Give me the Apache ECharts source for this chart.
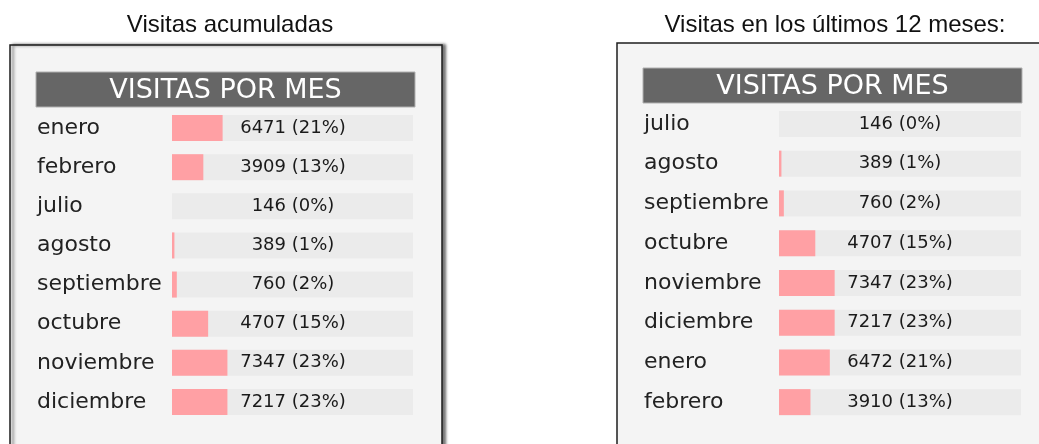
<!DOCTYPE html>
<html>
<head>
<meta charset="utf-8">
<script src="https://cdn.jsdelivr.net/npm/echarts@6/dist/echarts.min.js"></script>
<style>
  html, body { margin: 0; padding: 0; background: #fff; }
  #chart { width: 1039px; height: 444px; }
</style>
</head>
<body>
<div id="chart"></div>
<script>
// left panel: visitas acumuladas
var leftMonths = ['enero', 'febrero', 'julio', 'agosto', 'septiembre', 'octubre', 'noviembre', 'diciembre']
var leftVisits = [6471, 3909, 146, 389, 760, 4707, 7347, 7217]
var leftPct = [21, 13, 0, 1, 2, 15, 23, 23]

// right panel: ultimos 12 meses
var rightMonths = ['julio', 'agosto', 'septiembre', 'octubre', 'noviembre', 'diciembre', 'enero', 'febrero']
var rightVisits = [146, 389, 760, 4707, 7347, 7217, 6472, 3910]
var rightPct = [0, 1, 2, 15, 23, 23, 21, 13]

var pixelFont = 'DejaVu Sans'

function panel(x, y, w, h, shadow) {
  return {
    type: 'rect',
    z: 0,
    shape: { x: x, y: y, width: w, height: h },
    style: {
      fill: '#f4f4f4',
      stroke: '#1e1e1e',
      lineWidth: 1.5,
      shadowBlur: shadow ? 3 : 0,
      shadowOffsetX: shadow ? 3 : 0,
      shadowOffsetY: 0,
      shadowColor: 'rgba(0,0,0,0.55)'
    }
  }
}

function header(x, y, w, h) {
  return {
    type: 'group',
    z: 1,
    children: [
      {
        type: 'rect',
        shape: { x: x, y: y, width: w, height: h },
        style: { fill: '#666666', stroke: '#b0b0b0', lineWidth: 1 }
      },
      {
        type: 'text',
        x: x + w / 2,
        y: y + h / 2 + 1,
        style: {
          text: 'VISITAS POR MES',
          fill: '#ffffff',
          font: '27px "' + pixelFont + '"',
          align: 'center',
          verticalAlign: 'middle'
        }
      }
    ]
  }
}

function yAxisFor(idx, months) {
  return {
    gridIndex: idx,
    type: 'category',
    inverse: true,
    data: months,
    axisLine: { show: false },
    axisTick: { show: false },
    axisLabel: {
      color: '#222',
      fontFamily: pixelFont,
      fontSize: 22,
      align: 'left',
      margin: 135
    }
  }
}

function seriesFor(idx, pct, visits) {
  return {
    type: 'bar',
    xAxisIndex: idx,
    yAxisIndex: idx,
    data: pct,
    barWidth: 26,
    itemStyle: { color: '#ffa0a4' },
    showBackground: true,
    backgroundStyle: { color: '#ebebeb' },
    silent: true,
    label: {
      show: true,
      position: [121, 13],
      align: 'center',
      verticalAlign: 'middle',
      color: '#1a1a1a',
      fontFamily: pixelFont,
      fontSize: 18,
      formatter: function (p) {
        return visits[p.dataIndex] + ' (' + pct[p.dataIndex] + '%)'
      }
    }
  }
}

var chart = echarts.init(document.getElementById('chart'))

chart.setOption({
  animation: false,
  backgroundColor: '#ffffff',
  title: [
    {
      text: 'Visitas acumuladas',
      left: 225,
      top: 8,
      textAlign: 'center',
      textStyle: { fontFamily: 'Liberation Sans', fontSize: 24, fontWeight: 'normal', color: '#111' }
    },
    {
      text: 'Visitas en los últimos 12 meses:',
      left: 830,
      top: 8,
      textAlign: 'center',
      textStyle: { fontFamily: 'Liberation Sans', fontSize: 24, fontWeight: 'normal', color: '#111' }
    }
  ],
  graphic: [
    panel(10, 45, 432, 420, true),
    panel(617, 43, 440, 420, false),
    header(36, 72, 379, 35),
    header(643, 68, 379, 35)
  ],
  grid: [
    { left: 172, width: 241, top: 108.5, height: 313 },
    { left: 779, width: 242, top: 104, height: 318 }
  ],
  xAxis: [
    { gridIndex: 0, type: 'value', min: 0, max: 100, show: false },
    { gridIndex: 1, type: 'value', min: 0, max: 100, show: false }
  ],
  yAxis: [
    yAxisFor(0, leftMonths),
    yAxisFor(1, rightMonths)
  ],
  series: [
    seriesFor(0, leftPct, leftVisits),
    seriesFor(1, rightPct, rightVisits)
  ]
})
</script>
</body>
</html>
